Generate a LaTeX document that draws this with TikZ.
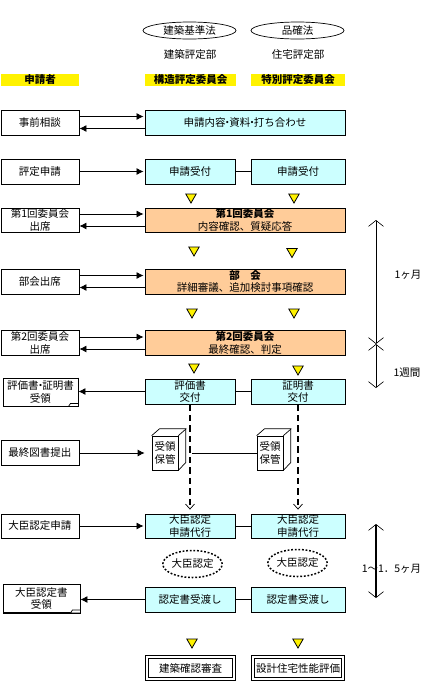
\documentclass[tikz,border=0pt]{standalone}
\usepackage{fontspec}
\setmainfont{Noto Sans CJK JP}
\usepackage{xcolor}
\usetikzlibrary{arrows.meta,positioning,calc,shapes.geometric}
\definecolor{paleblue}{HTML}{CCFFFF}
\definecolor{paleorange}{HTML}{FFCC99}
\newcommand{\nakaten}{\kern-3.4pt・\kern-3.4pt}

\begin{document}
\begin{tikzpicture}[
    x=1pt, y=-1pt,
    font=\fontsize{10.5}{12.5}\selectfont,
    >={Latex[length=7pt,width=7pt]},
    lbox/.style={draw,line width=.9pt,minimum width=78pt,minimum height=25pt,
                 inner sep=0pt,align=center,fill=white},
    sbox/.style={lbox,fill=paleblue,minimum width=90pt},
    wbox/.style={lbox,fill=paleblue,minimum width=200pt},
    ubox/.style={sbox,minimum width=94pt},
    meet/.style={wbox,fill=paleorange},
    head/.style={fill=yellow,minimum height=12pt,inner sep=0pt,font=\fontsize{10.5}{12.5}\selectfont\bfseries},
    law/.style={draw,ellipse,line width=.7pt,minimum width=93pt,minimum height=17pt,inner sep=0pt},
    cert/.style={draw,ellipse,line width=1.5pt,dash pattern=on 1.8pt off 1.8pt,
                 minimum width=58pt,minimum height=27pt,inner sep=0pt},
    tri/.style={draw,fill=yellow,line width=.8pt,isosceles triangle,isosceles triangle apex angle=60,
                shape border rotate=-90,minimum height=9pt,minimum width=10pt,inner sep=0pt},
    docu/.style={lbox,minimum width=75pt,minimum height=28pt},
    cube/.style={draw,line width=.7pt,minimum width=26pt,minimum height=34pt,inner sep=0pt,align=center},
    frame/.style={draw,double,double distance=2.6pt,line width=.7pt,minimum height=22pt,inner sep=0pt},
    flow/.style={->,line width=.8pt},
    link/.style={line width=.8pt},
    pass/.style={-{Straight Barb[length=5pt,width=9pt,line width=.7pt]},line width=2pt,
                 dash pattern=on 6.5pt off 4pt,shorten >=4pt},
    span/.style={{Straight Barb[length=6pt,width=15pt,line width=.6pt]}-{Straight Barb[length=6pt,width=15pt,line width=.6pt]},line width=.8pt},
  ]
  \useasboundingbox (0,0) rectangle (424,686);

  % --- top: laws, departments, column heads ---
  \node[law] (lawA) at (189.5,30.5) {建築基準法};
  \node[law] (lawB) at (297.5,30.5) {品確法};
  \node (deptA) at (190,55) {建築評定部};
  \node (deptB) at (298,55) {住宅評定部};
  \node[head,minimum width=78pt] (headL) at (40,80) {申請者};
  \node[head,minimum width=91pt] (headA) at (190.5,80) {構造評定委員会};
  \node[head,minimum width=94pt] (headB) at (298,80) {特別評定委員会};

  % --- applicant column ---
  \node[lbox] (jizen)  at (40,122.5) {事前相談};
  \node[lbox] (shinsei) at (40,171.5) {評定申請};
  \node[lbox,minimum height=24pt] (iin1) at (40,220) {第1回委員会\\出席};
  \node[lbox] (bukai)  at (40,281.5) {部会出席};
  \node[lbox] (iin2)   at (40,343) {第2回委員会\\出席};
  \node[docu] (juryo)  at (40.5,392) {評価書\nakaten 証明書\\受領};
  \node[lbox] (saishu) at (40,453) {最終図書提出};
  \node[lbox,minimum height=24pt] (daijin) at (40,526) {大臣認定申請};
  \node[docu,minimum width=77pt] (nintei) at (41.5,598.5) {大臣認定書\\受領};

  % --- committee columns ---
  \node[wbox] (naiyo) at (245,122.5) {申請内容\nakaten 資料\nakaten 打ち合わせ};
  \node[sbox] (uketsukeA) at (190,171.5) {申請受付};
  \node[ubox] (uketsukeB) at (298,171.5) {申請受付};
  \node[meet,minimum height=24pt] (kai1) at (245,220) {\textbf{第1回委員会}\\内容確認、質疑応答};
  \node[meet] (kaiB) at (245,281.5) {\textbf{部　会}\\詳細審議、追加検討事項確認};
  \node[meet] (kai2) at (245,343) {\textbf{第2回委員会}\\最終確認、判定};
  \node[sbox] (kofuA) at (190,391.5) {評価書\\交付};
  \node[ubox] (kofuB) at (298,391.5) {証明書\\交付};
  \node[sbox,minimum height=24pt] (daikoA) at (190,526) {大臣認定\\申請代行};
  \node[ubox,minimum height=24pt] (daikoB) at (298,526) {大臣認定\\申請代行};
  \node[cert] (certA) at (192.5,564) {大臣認定};
  \node[cert] (certB) at (297.5,563) {大臣認定};
  \node[sbox] (wataA) at (190,599.5) {認定書受渡し};
  \node[ubox] (wataB) at (298,599.5) {認定書受渡し};
  \node[frame,minimum width=87pt] (kakunin) at (190.5,668) {建築確認審査};
  \node[frame,minimum width=90pt] (seino)   at (298,668) {設計住宅性能評価};

  % --- storage cubes ---
  \node[cube] (hokanA) at (165,453) {受領\\保管};
  \node[cube] (hokanB) at (270,453) {受領\\保管};
  \draw[line width=.7pt] (hokanA.north west) -- ++(8,-7) -- ++(26,0) -- ++(0,34) -- (hokanA.south east);
  \draw[line width=.7pt] (hokanA.north east) -- ++(8,-7);
  \draw[line width=.7pt] (hokanB.north west) -- ++(8,-7) -- ++(26,0) -- ++(0,34) -- (hokanB.south east);
  \draw[line width=.7pt] (hokanB.north east) -- ++(8,-7);

  % --- document edges ---
  \draw[line width=1.6pt] (juryo.north east) -- (juryo.south east) -- (juryo.south west);
  \draw[line width=.7pt,fill=white] ([shift={(-10,0)}]juryo.south east) -- ([shift={(-8,-3)}]juryo.south east) -- ([shift={(0,-3)}]juryo.south east) -- (juryo.south east) -- cycle;
  \draw[line width=1.6pt] (nintei.north east) -- (nintei.south east) -- (nintei.south west);
  \draw[line width=.7pt,fill=white] ([shift={(-10,0)}]nintei.south east) -- ([shift={(-8,-3)}]nintei.south east) -- ([shift={(0,-3)}]nintei.south east) -- (nintei.south east) -- cycle;

  % --- yellow markers ---
  \node[tri] (triA1) at (191,197) {};
  \node[tri] (triB1) at (294,197) {};
  \node[tri] (triA2) at (194,250) {};
  \node[tri] (triB2) at (292,251.5) {};
  \node[tri] (triA3) at (192,312) {};
  \node[tri] (triB3) at (294,312) {};
  \node[tri] (triA4) at (194,367) {};
  \node[tri] (triB4) at (298,369) {};
  \node[tri] (triA5) at (192,642) {};
  \node[tri] (triB5) at (298,642) {};

  % --- arrows between the columns ---
  \draw[flow,shorten >=1pt] ([yshift=6pt]jizen.east) -- ([yshift=6pt]naiyo.west);
  \draw[flow] ([yshift=-6pt]naiyo.west) -- ([yshift=-6pt]jizen.east);
  \draw[flow,shorten >=1pt] (shinsei) -- (uketsukeA);
  \draw[flow,shorten >=1pt] ([yshift=6pt]iin1.east) -- ([yshift=6pt]kai1.west);
  \draw[flow] ([yshift=-6pt]kai1.west) -- ([yshift=-6pt]iin1.east);
  \draw[flow,shorten >=1pt] ([yshift=6pt]bukai.east) -- ([yshift=6pt]kaiB.west);
  \draw[flow] ([yshift=-6pt]kaiB.west) -- ([yshift=-6pt]bukai.east);
  \draw[flow,shorten >=1pt] ([yshift=6pt]iin2.east) -- ([yshift=6pt]kai2.west);
  \draw[flow] ([yshift=-6pt]kai2.west) -- ([yshift=-6pt]iin2.east);
  \draw[flow] (kofuA.west) -- (kofuA.west -| juryo.east);
  \draw[flow,shorten >=7pt] (saishu) -- (hokanA);
  \draw[flow,shorten >=1pt] (daijin) -- (daikoA);
  \draw[flow] (wataA.west) -- (wataA.west -| nintei.east);

  % --- links between the two committees ---
  \draw[link] (uketsukeA) -- (uketsukeB);
  \draw[link] (kofuA) -- (kofuB);
  \draw[link] ([xshift=14pt]hokanA.east) -- (hokanB.west);
  \draw[link] (daikoA) -- (daikoB);
  \draw[link] (wataA) -- (wataB);

  % --- dashed hand-over ---
  \draw[pass] (kofuA) -- (daikoA);
  \draw[pass] (kofuB) -- (daikoB);

  % --- durations ---
  \coordinate (t1) at (376,220);
  \coordinate (t2) at (376,344);
  \coordinate (t3) at (376,388);
  \coordinate (t4) at (376,524);
  \coordinate (t5) at (376,598);
  \draw[span] (t1) -- (t2);
  \draw[span] (t2) -- (t3);
  \draw[span,line width=2pt] (t4) -- (t5);
  \node (month)  at (408,275) {1ヶ月};
  \node (week)   at (407,372.5) {1週間};
  \node (months) at (391.5,568.5) {1～1．5ヶ月};
\end{tikzpicture}
\end{document}
